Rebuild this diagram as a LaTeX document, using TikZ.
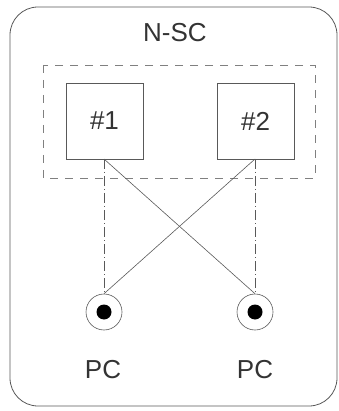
\documentclass[tikz,border=0pt]{standalone}
\usepackage{fontspec}
\setmainfont{Liberation Sans}
\begin{document}
\begin{tikzpicture}[x=1pt,y=-1pt,
  ln/.style={draw=black!65,line width=0.6pt},
  lbl/.style={text=black!80,font=\fontsize{26}{30}\selectfont,inner sep=0pt},
  unit/.style={ln,minimum width=77pt,minimum height=76pt,inner sep=0pt},
  pcring/.style={circle,ln,minimum size=36pt,inner sep=0pt},
  pcdot/.style={circle,fill=black,minimum size=15pt,inner sep=0pt}]
\useasboundingbox (0,0) rectangle (338,411);
\draw[ln,line width=0.8pt,rounded corners=28pt] (10,7) rectangle (337,406);
\draw[ln,draw=black!50,dash pattern=on 8pt off 7pt] (43,65) rectangle (315,178);
\node[lbl] (nsc) at (175,33) {N-SC};
\node[unit] (u1) at (104.5,121) {};
\node[lbl] at (u1) {\#1};
\node[unit] (u2) at (255.5,121) {};
\node[lbl] at (u2) {\#2};
\coordinate (b1) at (104,159);
\coordinate (b2) at (255,159);
\node[pcring] (p1) at (104,312) {};
\node[pcdot] at (p1) {};
\node[pcring] (p2) at (255,312) {};
\node[pcdot] at (p2) {};
\node[lbl] (l1) at (103,370) {PC};
\node[lbl] (l2) at (255,370) {PC};
\draw[ln,dash pattern=on 10pt off 3pt on 1pt off 3pt] (b1) -- (p1.north);
\draw[ln,dash pattern=on 10pt off 3pt on 1pt off 3pt] (b2) -- (p2.north);
\draw[ln] (b1) -- (p2.north);
\draw[ln] (b2) -- (p1.north);
\end{tikzpicture}
\end{document}
